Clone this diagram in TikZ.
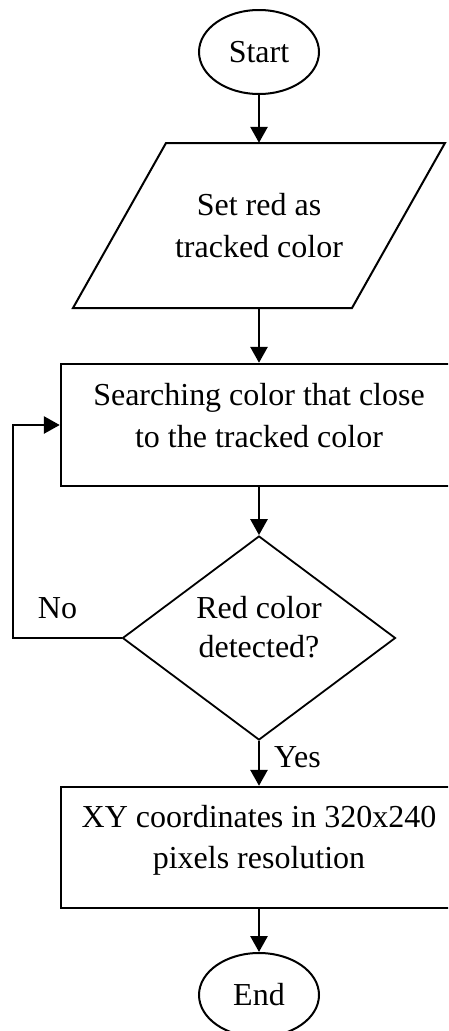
\documentclass[tikz,border=0pt]{standalone}
\usepackage{fontspec}
\setmainfont{Liberation Serif}
\usetikzlibrary{arrows.meta,shapes.geometric}

\begin{document}
\begin{tikzpicture}[x=1pt,y=-1pt,
  txt/.style={inner sep=0pt,font=\fontsize{32}{42}\selectfont},
  term/.style={draw,ellipse,line width=2pt,minimum width=120pt,minimum height=84pt,inner sep=0pt,font=\fontsize{32}{42}\selectfont},
  procbox/.style={draw,rectangle,line width=2.4pt,minimum width=396pt,inner sep=0pt},
  decide/.style={draw,diamond,line width=1.8pt,minimum width=273pt,minimum height=204pt,inner sep=0pt},
  flow/.style={line width=2.8pt,-{Triangle[width=17pt,length=16pt]}}
]
\path[use as bounding box,clip] (0,0) rectangle (448,1031);

% terminals
\node[term] (start) at (259,52) {Start};
\node[term] (stop) at (259,995) {End};

% input step: parallelogram around an invisible frame
\node[minimum width=186pt,minimum height=165pt,inner sep=0pt] (para) at (259,225.5) {};
\draw[line width=2pt] (166,143) -- (445,143) -- (352,308) -- (73,308) -- cycle;
\node[txt,anchor=base] (paraA) at (259,215) {Set red as};
\node[txt,anchor=base] (paraB) at (259,257) {tracked color};

% search step
\node[procbox,minimum height=122pt] (search) at (259,425) {};
\node[txt,anchor=base] (searchA) at (259,405) {Searching color that close};
\node[txt,anchor=base] (searchB) at (259,447) {to the tracked color};

% decision
\node[decide] (dec) at (259,638) {};
\node[txt,anchor=base] (decA) at (259,618) {Red color};
\node[txt,anchor=base] (decB) at (259,657) {detected?};

% result step
\node[procbox,minimum height=121pt] (result) at (259,847.5) {};
\node[txt,anchor=base] (resA) at (259,827) {XY coordinates in 320x240};
\node[txt,anchor=base] (resB) at (259,868) {pixels resolution};

% connectors
\draw[flow] (start.south) -- (para.north);
\draw[flow] (para.south) -- (search.north);
\draw[flow] (search.south) -- (dec.north);
\draw[flow] (dec.south) -- (result.north);
\draw[flow] (result.south) -- (stop.north);
\coordinate (loopcorner) at (13,638);
\draw[flow] (dec.west) -- (loopcorner) |- (search.west);

% branch labels
\node[txt,anchor=base] (nolbl) at (57.5,618) {No};
\node[txt,anchor=base west] (yeslbl) at (274,767) {Yes};
\end{tikzpicture}
\end{document}
